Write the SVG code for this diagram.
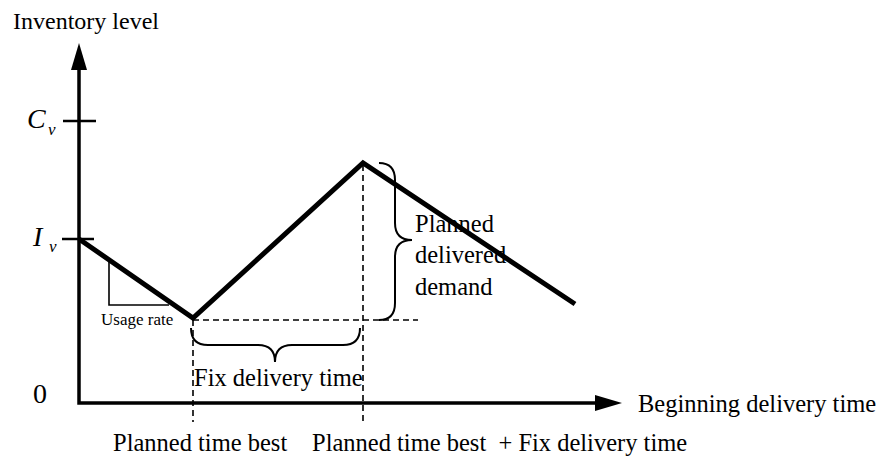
<svg xmlns="http://www.w3.org/2000/svg" width="887" height="456" viewBox="0 0 887 456">
  <style>
    .txt { font-family: "Liberation Serif", "Times New Roman", serif; fill: #000; }
    .ital { font-style: italic; }
    .axis { fill: none; stroke: #000; stroke-width: 3.5; stroke-linejoin: miter; }
    .tick { stroke: #000; stroke-width: 2.5; }
    .level { fill: none; stroke: #000; stroke-width: 5; stroke-linejoin: miter; }
    .guide { fill: none; stroke: #000; stroke-width: 1.6; stroke-dasharray: 6 4; }
    .thin { fill: none; stroke: #000; stroke-width: 1.6; }
    .brace { fill: none; stroke: #000; stroke-width: 2; }
  </style>
  <defs>
    <marker id="arrow" viewBox="0 -8 27 16" refX="0" refY="0" markerWidth="27" markerHeight="16" markerUnits="userSpaceOnUse" orient="auto-start-reverse">
      <path d="M0,-8 L27,0 L0,8 z" fill="#000"/>
    </marker>
  </defs>

  <rect width="887" height="456" fill="#fff"/>

  <!-- axes -->
  <g id="axes">
    <polyline class="axis" points="79,70 79,403 595,403" marker-start="url(#arrow)" marker-end="url(#arrow)"/>
    <line class="tick" x1="63" y1="121" x2="96" y2="121"/>
    <line class="tick" x1="62" y1="239" x2="94" y2="239"/>
    <text class="txt" x="13" y="29" font-size="24">Inventory level</text>
    <text class="txt" x="638" y="412" font-size="24.5">Beginning delivery time</text>
    <text class="txt" x="33" y="403" font-size="28">0</text>
    <text class="txt ital" x="27" y="128" font-size="28">C</text>
    <text class="txt ital" x="48" y="135" font-size="17">v</text>
    <text class="txt ital" x="33" y="246" font-size="28">I</text>
    <text class="txt ital" x="49" y="252" font-size="17">v</text>
  </g>

  <!-- guide lines -->
  <g id="guides">
    <line class="guide" x1="193" y1="320" x2="418" y2="320"/>
    <line class="guide" x1="193" y1="320" x2="193" y2="422"/>
    <line class="guide" x1="363" y1="165" x2="363" y2="422"/>
    <polyline class="thin" points="109,262 109,305 169,305"/>
  </g>

  <!-- inventory level curve -->
  <g id="level-curve">
    <polyline class="level" points="79,239 193,318 363,163 575,304"/>
  </g>

  <!-- braces -->
  <g id="braces">
    <path class="brace" d="M191,328 Q191,345 208,345 L258,345 Q275,345 275,362 Q275,345 292,345 L343,345 Q360,345 360,328"/>
    <path class="brace" d="M379,163 Q395,163 395,180 L395,223 Q395,240 412,240 Q395,240 395,257 L395,303 Q395,320 379,320"/>
  </g>

  <!-- labels -->
  <g id="labels">
    <text class="txt" x="101" y="325" font-size="17">Usage rate</text>
    <text class="txt" x="194" y="386" font-size="24.5">Fix delivery time</text>
    <text class="txt" x="415" y="232" font-size="24.5">Planned</text>
    <text class="txt" x="415" y="263" font-size="24.5">delivered</text>
    <text class="txt" x="415" y="295" font-size="24.5">demand</text>
    <text class="txt" x="113" y="451" font-size="24.5">Planned time best</text>
    <text class="txt" x="312" y="451" font-size="24.5" xml:space="preserve">Planned time best  + Fix delivery time</text>
  </g>
</svg>
